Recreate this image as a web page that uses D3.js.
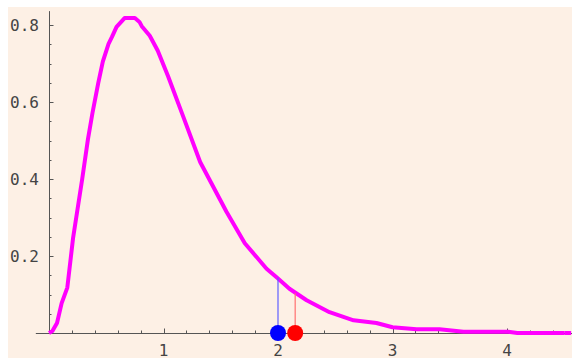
<!DOCTYPE html>
<html>
<head>
<meta charset="utf-8">
<script src="https://cdn.jsdelivr.net/npm/d3@7"></script>
<style>
  body { margin: 0; background: #fff; }
  svg { display: block; }
</style>
</head>
<body>
<script>
const width = 572;
const height = 358;

// density curve
const curveX = [0, 0.03, 0.07, 0.11, 0.16, 0.21, 0.29, 0.34, 0.38, 0.43, 0.47, 0.52, 0.55, 0.59, 0.66, 0.75, 0.79, 0.81, 0.88, 0.95, 1.04, 1.17, 1.32, 1.55, 1.71, 1.90, 1.99, 2.10, 2.25, 2.45, 2.66, 2.86, 3.00, 3.21, 3.41, 3.62, 4.01, 4.09, 4.5];
const curveY = [0, 0.005, 0.026, 0.077, 0.118, 0.246, 0.40, 0.503, 0.572, 0.649, 0.705, 0.751, 0.769, 0.795, 0.818, 0.818, 0.808, 0.797, 0.772, 0.733, 0.667, 0.564, 0.444, 0.315, 0.233, 0.167, 0.144, 0.115, 0.085, 0.054, 0.033, 0.026, 0.015, 0.010, 0.010, 0.003, 0.003, 0, 0];

// two marked points on the x axis
const markX = [2.0, 2.15];
const markTop = [0.144, 0.103];
const markColors = ['#0000ff', '#ff0000'];
const markLineColors = ['#6060ff', '#ff7070'];

const xTickLabels = [1, 2, 3, 4];
const yTickLabels = [0.2, 0.4, 0.6, 0.8];

const x = d3.scaleLinear().domain([0, 1]).range([49, 163.5]);
const y = d3.scaleLinear().domain([0, 0.8]).range([333, 25]);

const svg = d3.select('body').append('svg')
  .attr('width', width)
  .attr('height', height);

svg.append('rect')
  .attr('x', 8).attr('y', 7)
  .attr('width', width - 8).attr('height', height - 7)
  .attr('fill', '#fdf0e5');

const axisColor = '#555';
const axes = svg.append('g').attr('stroke', axisColor).attr('stroke-width', 1);

// x axis line + ticks (ticks point up)
axes.append('line')
  .attr('x1', x(-0.115)).attr('x2', width)
  .attr('y1', y(0) + 0.5).attr('y2', y(0) + 0.5);

const xMinor = d3.range(0.2, 4.6, 0.2).map(v => +v.toFixed(2));
axes.selectAll('line.xt')
  .data(xMinor)
  .join('line')
    .attr('class', 'xt')
    .attr('x1', d => Math.round(x(d)) + 0.5)
    .attr('x2', d => Math.round(x(d)) + 0.5)
    .attr('y1', y(0))
    .attr('y2', d => y(0) - (Math.abs(d - Math.round(d)) < 1e-6 ? 4.5 : 2.5));

// y axis line + ticks (ticks point right)
axes.append('line')
  .attr('x1', x(0) + 0.5).attr('x2', x(0) + 0.5)
  .attr('y1', y(0) + 1).attr('y2', y(0.836));

const yMinor = d3.range(0.05, 0.84, 0.05).map(v => +v.toFixed(2));
axes.selectAll('line.yt')
  .data(yMinor)
  .join('line')
    .attr('class', 'yt')
    .attr('y1', d => Math.round(y(d)) + 0.5)
    .attr('y2', d => Math.round(y(d)) + 0.5)
    .attr('x1', x(0))
    .attr('x2', d => x(0) + (Math.abs(d * 5 - Math.round(d * 5)) < 1e-6 ? 4.5 : 2.5));

// tick labels
svg.append('g')
  .attr('font-family', 'DejaVu Sans Mono')
  .attr('font-size', 16)
  .attr('fill', '#444')
  .selectAll('text')
  .data(yTickLabels)
  .join('text')
    .attr('x', 39)
    .attr('y', d => y(d) + 6)
    .attr('text-anchor', 'end')
    .text(d => d.toFixed(1));

svg.append('g')
  .attr('font-family', 'DejaVu Sans Mono')
  .attr('font-size', 16)
  .attr('fill', '#444')
  .selectAll('text')
  .data(xTickLabels)
  .join('text')
    .attr('x', d => x(d))
    .attr('y', 356)
    .attr('text-anchor', 'middle')
    .text(d => d);

// curve
const pts = curveX.map((v, i) => [v, curveY[i]]);
svg.append('path')
  .datum(pts)
  .attr('fill', 'none')
  .attr('stroke', '#ff00ff')
  .attr('stroke-width', 4)
  .attr('stroke-linejoin', 'round')
  .attr('d', d3.line().x(d => x(d[0])).y(d => y(d[1])));

// extend flat tail to the edge
svg.append('line')
  .attr('x1', x(4.5)).attr('x2', x(4.56))
  .attr('y1', y(0)).attr('y2', y(0))
  .attr('stroke', '#ff00ff').attr('stroke-width', 4);

// vertical markers and dots
svg.selectAll('line.mark')
  .data(markX)
  .join('line')
    .attr('class', 'mark')
    .attr('x1', d => x(d)).attr('x2', d => x(d))
    .attr('y1', y(0))
    .attr('y2', (d, i) => y(markTop[i]))
    .attr('stroke', (d, i) => markLineColors[i])
    .attr('stroke-width', 1.2);

svg.selectAll('circle.mark')
  .data(markX)
  .join('circle')
    .attr('class', 'mark')
    .attr('cx', d => x(d))
    .attr('cy', y(0))
    .attr('r', 8)
    .attr('fill', (d, i) => markColors[i]);
</script>
</body>
</html>
